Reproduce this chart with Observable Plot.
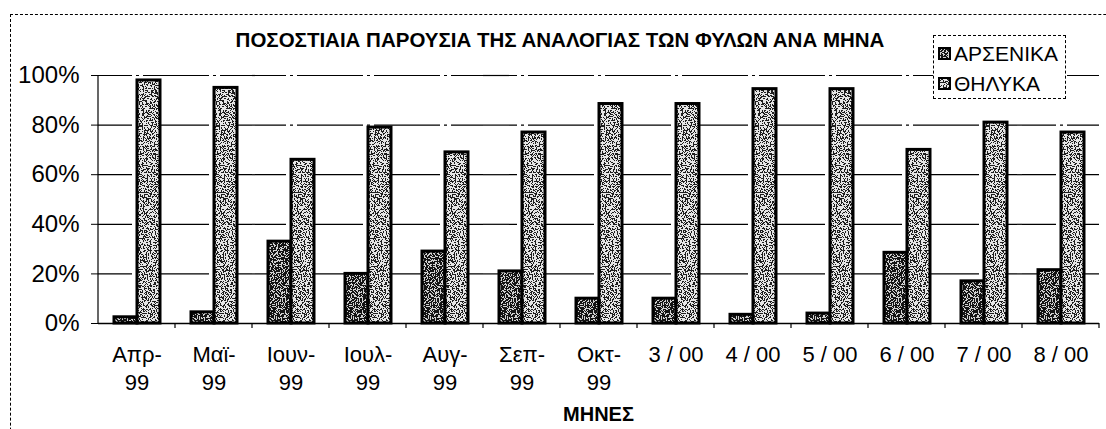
<!DOCTYPE html>
<html>
<head>
<meta charset="utf-8">
<script src="https://cdn.jsdelivr.net/npm/d3@7"></script>
<script src="https://cdn.jsdelivr.net/npm/@observablehq/plot@0.6"></script>
<style>
  body { margin: 0; background: #fff; }
  #wrap { position: relative; width: 1106px; height: 429px; overflow: hidden; background: #fff; font-family: "Liberation Sans", Arial, sans-serif; color: #000; }
  #frameborder { position: absolute; left: 10px; top: 14px; width: 1300px; height: 600px; border-left: 1px dashed #000; border-top: 1px dashed #000; }
  #chart { position: absolute; left: 0; top: 0; }
  #title { position: absolute; left: 0; width: 1120px; top: 28px; text-align: center; font-weight: bold; font-size: 20.5px; white-space: nowrap; }
  #xlabel { position: absolute; left: 97px; width: 1003px; top: 403px; text-align: center; font-weight: bold; font-size: 20px; }
  #legend { position: absolute; left: 933px; top: 35px; width: 131px; height: 62px; border: 1px dashed #000; background: #fff; }
  .item { position: absolute; left: 4px; font-size: 21px; line-height: 21px; display: flex; align-items: center; white-space: nowrap; }
  .item svg { margin-right: 3px; }
</style>
</head>
<body>
<div id="wrap">
  <div id="frameborder"></div>
  <div id="chart"></div>
  <div id="title"></div>
  <div id="xlabel"></div>
  <div id="legend"></div>
</div>
<script>
const titleText = "ΠΟΣΟΣΤΙΑΙΑ ΠΑΡΟΥΣΙΑ ΤΗΣ ΑΝΑΛΟΓΙΑΣ ΤΩΝ ΦΥΛΩΝ ΑΝΑ ΜΗΝΑ";
const xTitle = "ΜΗΝΕΣ";
const months = ["Απρ-99","Μαϊ-99","Ιουν-99","Ιουλ-99","Αυγ-99","Σεπ-99","Οκτ-99","3 / 00","4 / 00","5 / 00","6 / 00","7 / 00","8 / 00"];
const series = ["ΑΡΣΕΝΙΚΑ","ΘΗΛΥΚΑ"];
const male   = [2.5, 4.5, 33, 20, 29, 21, 10, 10, 3.5, 4, 28.5, 17, 21.5];
const female = [98, 95, 66, 79, 69, 77, 88.5, 88.5, 94.5, 94.5, 70, 81, 77];
const yTicks = [0, 20, 40, 60, 80, 100];
const patterns = ["url(#pM)", "url(#pF)"];

const data = months.flatMap((m, i) => [
  {month: m, sex: series[0], value: male[i]},
  {month: m, sex: series[1], value: female[i]}
]);

document.getElementById("title").textContent = titleText;
document.getElementById("xlabel").textContent = xTitle;

// legend
const legend = document.getElementById("legend");
series.forEach((s, i) => {
  const item = document.createElement("div");
  item.className = "item";
  item.style.top = (i === 0 ? 7 : 37) + "px";
  item.innerHTML = `<svg width="13" height="13"><rect x="1" y="1" width="11" height="11" fill="${patterns[i]}" stroke="#000" stroke-width="2"/></svg>${s}`;
  legend.appendChild(item);
});

const plot = Plot.plot({
  width: 1106,
  height: 429,
  marginLeft: 96,
  marginRight: 6,
  marginTop: 75,
  marginBottom: 106,
  style: {fontFamily: "'Liberation Sans', Arial, sans-serif", background: "transparent", color: "#000"},
  fx: {domain: months, paddingInner: 0, paddingOuter: 0, label: null},
  x: {domain: series, paddingInner: 0, paddingOuter: 0.645, axis: null},
  y: {domain: [0, 100], label: null},
  color: {domain: series, range: patterns},
  marks: [
    Plot.gridY(yTicks.filter(d => d > 0), {stroke: "#000", strokeOpacity: 1, strokeWidth: 1.2, strokeDasharray: "34 4 3 4"}),
    Plot.axisY(yTicks, {tickFormat: d => d + "%", tickSize: 7, tickPadding: 12, fontSize: 24, label: null, stroke: "#000", fill: "#000"}),
    Plot.barY(data, {fx: "month", x: "sex", y: "value", fill: "sex", stroke: "#000", strokeWidth: 3, inset: 0}),
    Plot.ruleY([0], {stroke: "#000", strokeWidth: 1.5}),
    Plot.axisFx({anchor: "bottom", tickSize: 0, tickPadding: 18, fontSize: 22, lineHeight: 1.3, label: null, fill: "#000", tickFormat: d => d.replace("-", "-\n")})
  ]
});

const svg = d3.select(plot);
svg.insert("defs", ":first-child").html(`
  <filter id="fM" x="0" y="0" width="100%" height="100%" color-interpolation-filters="sRGB">
    <feTurbulence type="fractalNoise" baseFrequency="0.75" numOctaves="2" seed="4"/>
    <feColorMatrix type="matrix" values="1 0 0 0 0  1 0 0 0 0  1 0 0 0 0  0 0 0 0 1"/>
    <feComponentTransfer>
      <feFuncR type="linear" slope="5" intercept="-2.2"/>
      <feFuncG type="linear" slope="5" intercept="-2.2"/>
      <feFuncB type="linear" slope="5" intercept="-2.2"/>
    </feComponentTransfer>
    <feComponentTransfer>
      <feFuncR type="discrete" tableValues="0.08 0.82"/>
      <feFuncG type="discrete" tableValues="0.08 0.82"/>
      <feFuncB type="discrete" tableValues="0.08 0.82"/>
    </feComponentTransfer>
  </filter>
  <filter id="fF" x="0" y="0" width="100%" height="100%" color-interpolation-filters="sRGB">
    <feTurbulence type="fractalNoise" baseFrequency="0.75" numOctaves="2" seed="9"/>
    <feColorMatrix type="matrix" values="1 0 0 0 0  1 0 0 0 0  1 0 0 0 0  0 0 0 0 1"/>
    <feComponentTransfer>
      <feFuncR type="linear" slope="5" intercept="-1.9"/>
      <feFuncG type="linear" slope="5" intercept="-1.9"/>
      <feFuncB type="linear" slope="5" intercept="-1.9"/>
    </feComponentTransfer>
    <feComponentTransfer>
      <feFuncR type="discrete" tableValues="0.12 0.9"/>
      <feFuncG type="discrete" tableValues="0.12 0.9"/>
      <feFuncB type="discrete" tableValues="0.12 0.9"/>
    </feComponentTransfer>
  </filter>
  <pattern id="pM" patternUnits="userSpaceOnUse" width="400" height="429">
    <rect width="400" height="429" fill="#666" filter="url(#fM)"/>
  </pattern>
  <pattern id="pF" patternUnits="userSpaceOnUse" width="400" height="429">
    <rect width="400" height="429" fill="#bbb" filter="url(#fF)"/>
  </pattern>
`);

// y-axis line and small boundary ticks between month groups, from Plot's scales
const fx = plot.scale("fx");
const yS = plot.scale("y");
const y0 = yS.apply(0), y100 = yS.apply(100);
const xLeft = fx.apply(fx.domain[0]);
const bounds = fx.domain.map(d => fx.apply(d)).concat([fx.apply(fx.domain[fx.domain.length - 1]) + fx.bandwidth]);
const g = svg.append("g").attr("stroke", "#000").attr("stroke-width", 1.2);
g.append("line").attr("x1", xLeft).attr("x2", xLeft).attr("y1", y100).attr("y2", y0);
bounds.slice(1).forEach(xv => {
  g.append("line").attr("x1", xv).attr("x2", xv).attr("y1", y0).attr("y2", y0 + 5);
});

document.getElementById("chart").appendChild(plot);
</script>
</body>
</html>
